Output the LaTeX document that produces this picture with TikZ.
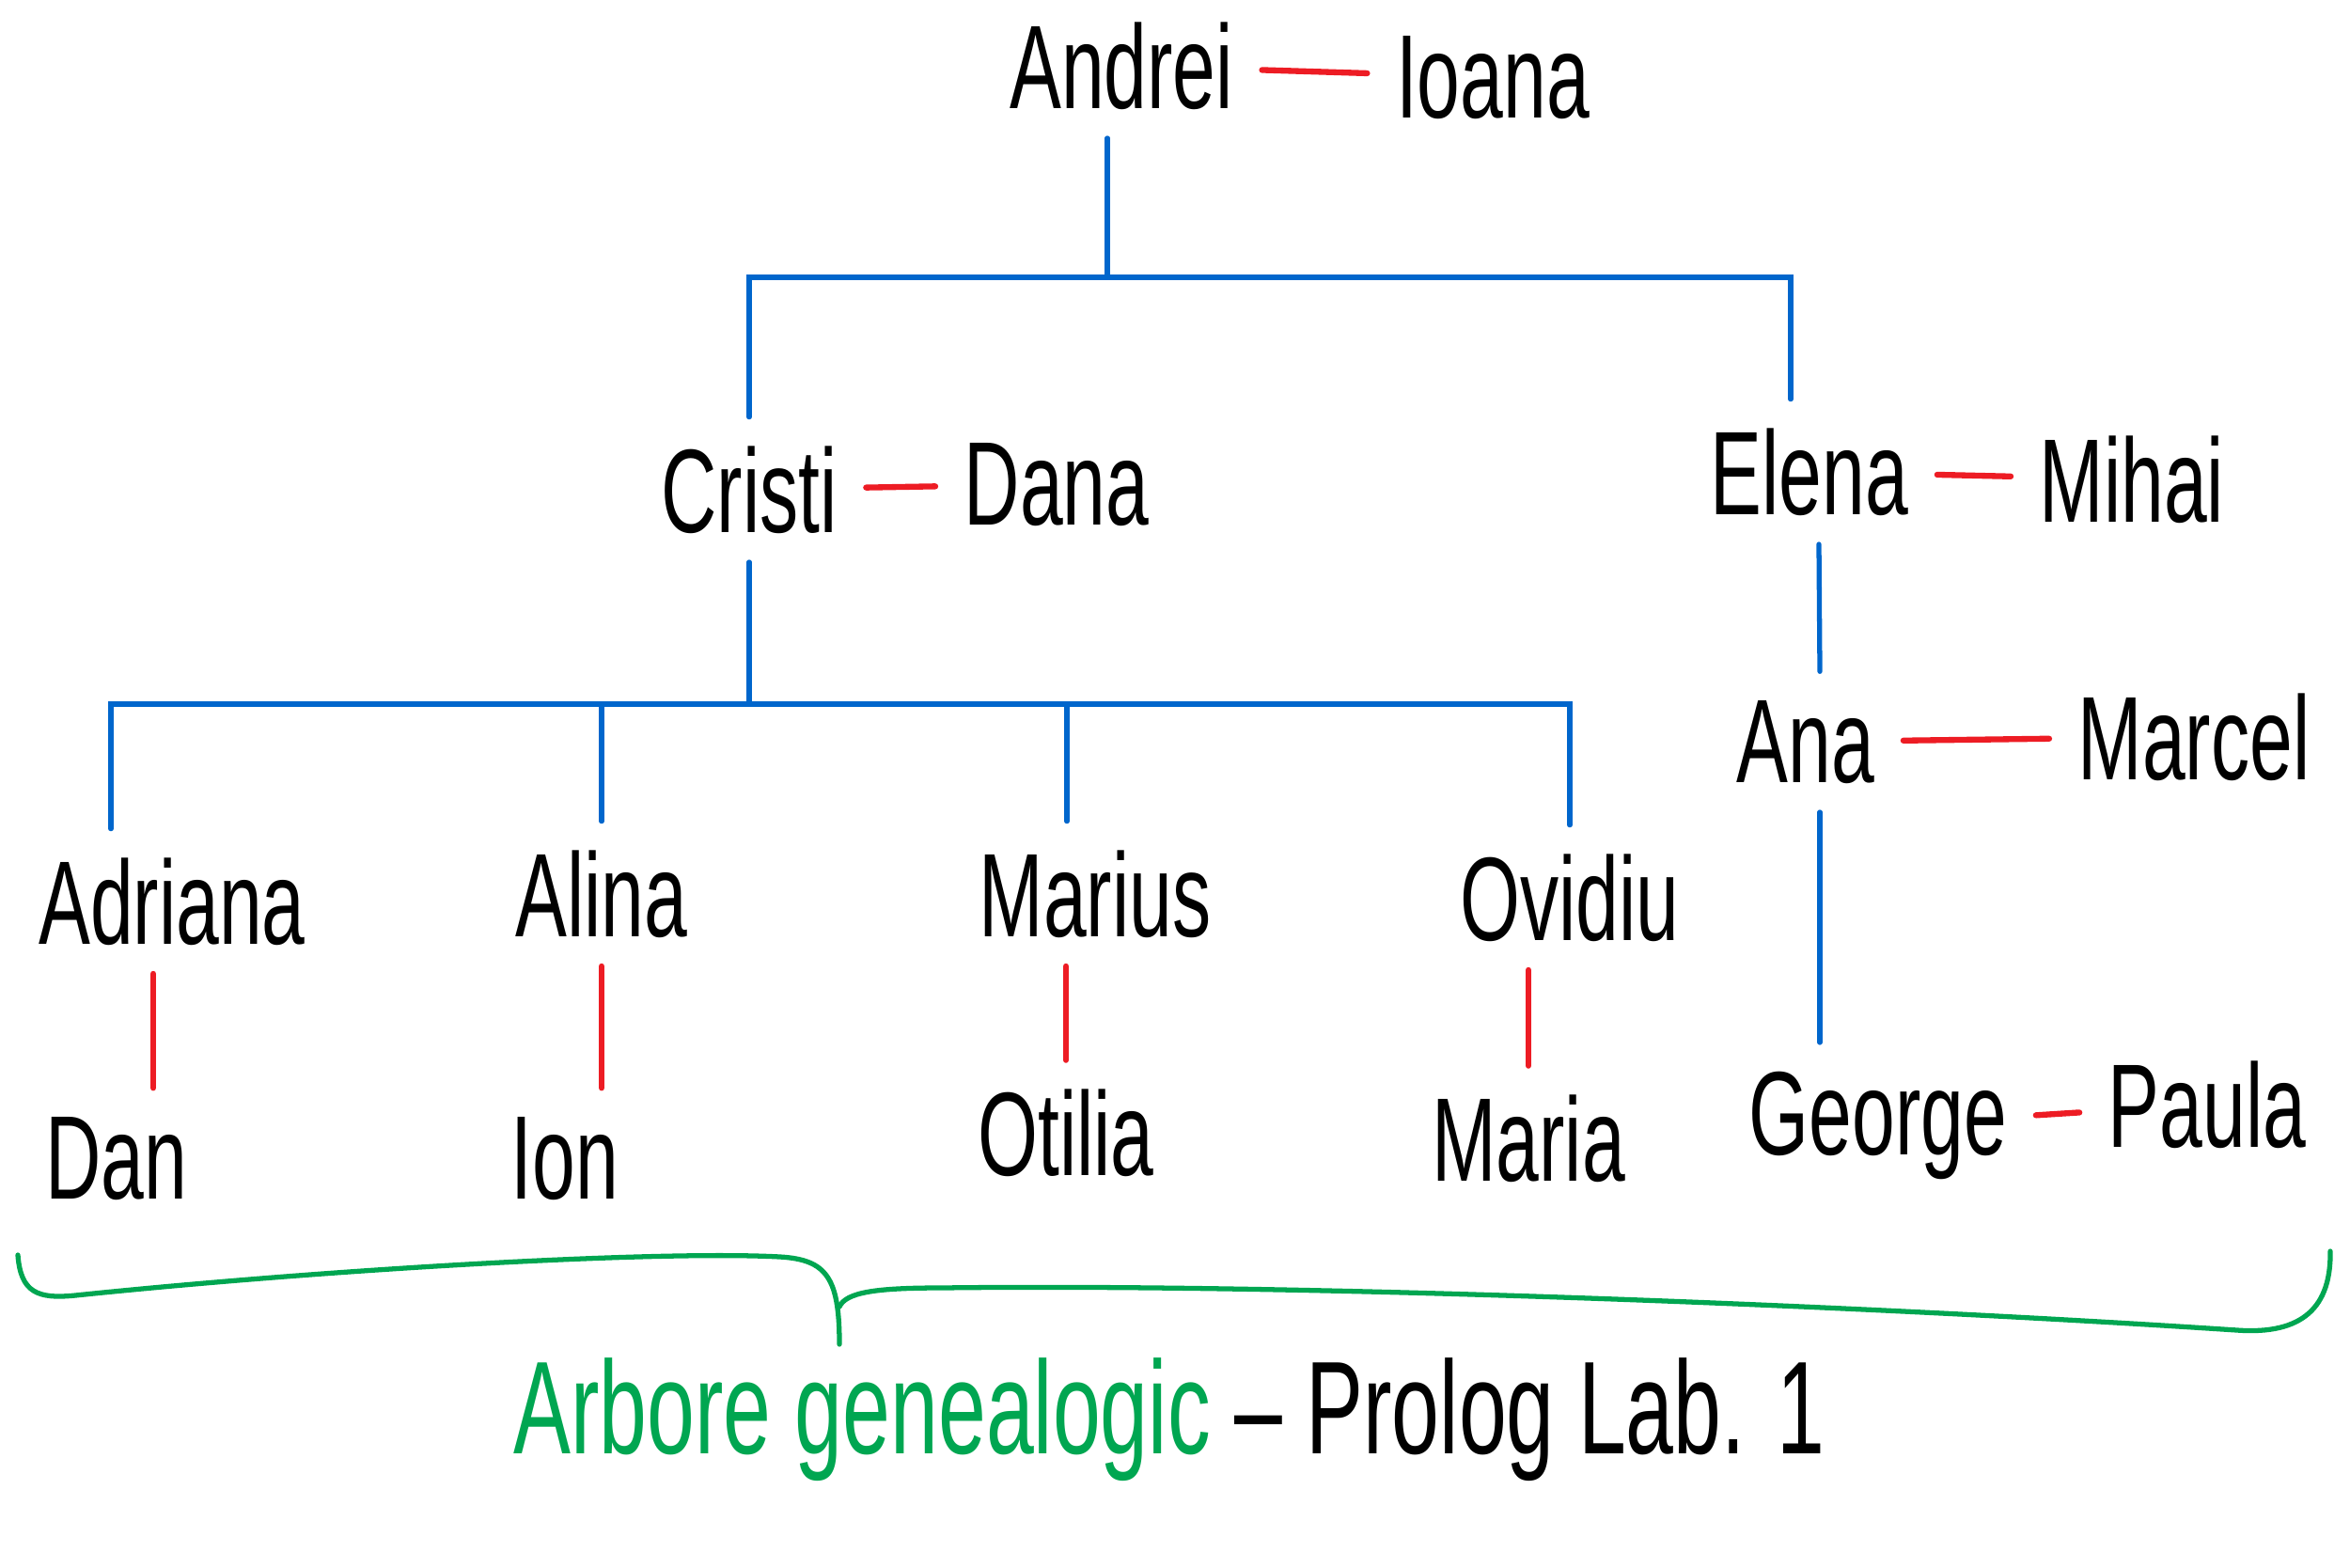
\documentclass[tikz,border=0pt]{standalone}
\usepackage{fontspec}
\newfontfamily\handfont[FakeStretch=0.65]{Liberation Sans}
\usetikzlibrary{positioning}
\definecolor{treeblue}{RGB}{0,102,204}
\definecolor{couplered}{RGB}{237,28,36}
\definecolor{bracegreen}{RGB}{0,166,81}

\begin{document}
\begin{tikzpicture}
        \tikzset{Person/.style={%
            font=\handfont\fontsize{36}{40}\selectfont,%
            anchor=base,%
            inner xsep=0.3cm,%
            inner ysep=0.3cm,%
        }}
        \tikzset{Tree/.style={draw=treeblue, line width=1.5pt, line cap=round}}
        \tikzset{Couple/.style={draw=couplered, line width=1.8pt, line cap=round}}
        \tikzset{Brace/.style={draw=bracegreen, line width=1.5pt, line cap=round, line join=round}}

        \useasboundingbox (0,0) rectangle (25,-16.67);

        % generation 1
        \node[Person] (andrei) at (11.93,-1.15) {Andrei};
        \node[Person] (ioana) at (15.88,-1.25) {Ioana};
        % generation 2
        \node[Person] (cristi) at (7.97,-5.66) {Cristi};
        \node[Person] (dana) at (11.24,-5.58) {Dana};
        \node[Person] (elena) at (19.25,-5.47) {Elena};
        \node[Person] (mihai) at (22.68,-5.55) {Mihai};
        % generation 3
        \node[Person] (adriana) at (1.83,-10.04) {Adriana};
        \node[Person] (alina) at (6.40,-9.96) {Alina};
        \node[Person] (marius) at (11.65,-9.96) {Marius};
        \node[Person] (ovidiu) at (16.70,-10.00) {Ovidiu};
        \node[Person] (ana) at (19.21,-8.32) {Ana};
        \node[Person] (marcel) at (23.34,-8.29) {Marcel};
        % spouses of generation 3
        \node[Person] (dan) at (1.24,-12.75) {Dan};
        \node[Person] (ion) at (6.01,-12.75) {Ion};
        \node[Person] (otilia) at (11.34,-12.50) {Otilia};
        \node[Person] (maria) at (16.26,-12.56) {Maria};
        \node[Person] (george) at (19.98,-12.28) {George};
        \node[Person] (paula) at (23.48,-12.20) {Paula};

        \coordinate (top) at (11.80,-2.95);
        \coordinate (mid) at (7.94,-7.49);

        % blue tree
        \draw[Tree] ([xshift=-1.5mm]andrei.south) -- ([xshift=-1.5mm]andrei.south |- top);
        \draw[Tree] (cristi.north) -- (cristi.north |- top) -- ([xshift=-2mm]elena.north |- top) -- ([xshift=-2mm]elena.north);
        \draw[Tree] (cristi.south) -- (cristi.south |- mid);
        \draw[Tree] ([xshift=-6.5mm]adriana.north) |- (ovidiu.north |- mid) -- (ovidiu.north);
        \draw[Tree] (alina.north) -- (alina.north |- mid);
        \draw[Tree] ([xshift=-3mm]marius.north) -- ([xshift=-3mm]marius.north |- mid);
        \draw[Tree] ([xshift=1mm]elena.south) -- ([xshift=1.5mm]ana.north);
        \draw[Tree] ([xshift=1.5mm]ana.south) -- ([xshift=1.5mm]ana.south |- george.north);

        % red couples
        \path (andrei) edge[Couple] (ioana);
        \path (cristi) edge[Couple] (dana);
        \path (elena) edge[Couple] (mihai);
        \path (ana) edge[Couple] (marcel);
        \path (george) edge[Couple] (paula);
        \draw[Couple] ([xshift=-2mm]adriana.south) -- ([xshift=-2mm]adriana.south |- dan.north);
        \draw[Couple] (alina.south) -- (alina.south |- ion.north);
        \draw[Couple] (otilia.north |- marius.south) -- (otilia.north);
        \draw[Couple] (maria.north |- ovidiu.south) -- (maria.north);

        % green brace
        \draw[Brace] (0.19,-13.35) .. controls (0.22,-13.75) and (0.40,-13.82) .. (0.80,-13.78)
            .. controls (3.50,-13.50) and (7.00,-13.30) .. (8.30,-13.37)
            .. controls (8.80,-13.40) and (8.93,-13.60) .. (8.93,-14.30);
        \draw[Brace] (8.93,-13.90) .. controls (9.00,-13.75) and (9.30,-13.70) .. (10.00,-13.70)
            .. controls (14.00,-13.65) and (20.00,-13.90) .. (23.80,-14.15)
            .. controls (24.50,-14.20) and (24.80,-13.90) .. (24.79,-13.31);

        \node[Person, font=\handfont\fontsize{40}{44}\selectfont] (title) at (12.44,-15.46) {\textcolor{bracegreen}{Arbore genealogic} – Prolog Lab. 1};
\end{tikzpicture}
\end{document}
